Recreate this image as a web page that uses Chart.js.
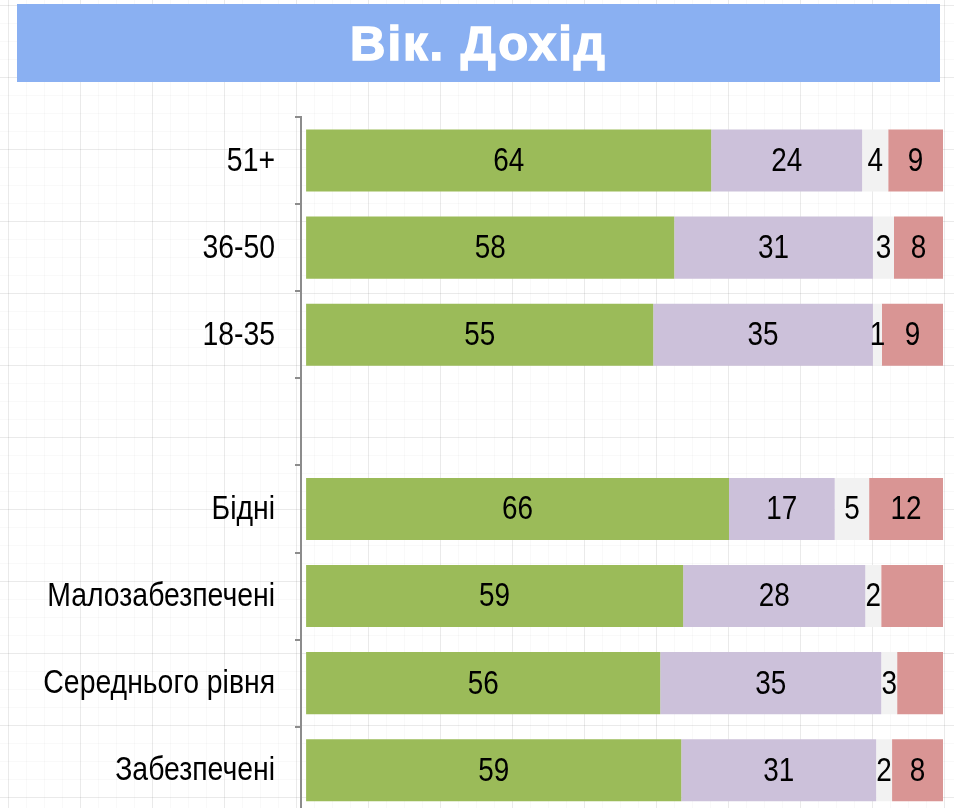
<!DOCTYPE html>
<html>
<head>
<meta charset="utf-8">
<script src="https://cdn.jsdelivr.net/npm/chart.js@4"></script>
<style>
    html, body {
        margin: 0;
        width: 954px;
        height: 808px;
        overflow: hidden;
        background-color: #fff;
        background-image:
            linear-gradient(rgba(0,0,0,0.06) 1px, transparent 1px),
            linear-gradient(90deg, rgba(0,0,0,0.06) 1px, transparent 1px),
            linear-gradient(rgba(0,0,0,0.025) 1px, transparent 1px),
            linear-gradient(90deg, rgba(0,0,0,0.025) 1px, transparent 1px);
        background-size: 72px 72px, 72px 72px, 18px 18px, 18px 18px;
        background-position: 8px 5px;
    }
    #title {
        position: absolute;
        left: 17px;
        top: 4px;
        width: 923px;
        height: 78px;
        background: #8ab0f2;
        color: #fff;
        font: bold 49px "Liberation Sans", Arial, sans-serif;
        letter-spacing: 2px;
        -webkit-text-stroke: 1.5px #fff;
        text-align: center;
        line-height: 78px;
    }
    #chart {
        position: absolute;
        left: 0;
        top: 0;
    }
</style>
</head>
<body>
<div id="title">Вік. Дохід</div>
<canvas id="chart" width="954" height="850"></canvas>
<script>
const categories = ['51+', '36-50', '18-35', '', 'Бідні', 'Малозабезпечені', 'Середнього рівня', 'Забезпечені'];

// segment lengths
const greenValues = [63.6, 57.8, 54.5, null, 66.4, 59.2, 55.6, 58.9];
const lilacValues = [23.7, 31.2, 34.5, null, 16.6, 28.6, 34.7, 30.6];
const greyValues = [4.1, 3.3, 1.4, null, 5.4, 2.5, 2.5, 2.5];
const redValues = [9.0, 7.7, 9.6, null, 11.6, 9.7, 7.2, 8.0];

// printed numbers (null = no label shown)
const greenLabels = [64, 58, 55, null, 66, 59, 56, 59];
const lilacLabels = [24, 31, 35, null, 17, 28, 35, 31];
const greyLabels = [4, 3, 1, null, 5, 2, 3, 2];
const redLabels = [9, 8, 9, null, 12, null, null, 8];

const FONT = '"Liberation Sans", Arial, sans-serif';

// no narrow font installed, so squeeze regular text horizontally
function narrowText(ctx, txt, x, y, size, squeeze) {
    ctx.save();
    ctx.font = `${size}px ${FONT}`;
    ctx.scale(squeeze, 1);
    ctx.fillText(txt, x / squeeze, y);
    ctx.restore();
}

const narrowLabels = {
    id: 'narrowLabels',
    afterDatasetsDraw(chart) {
        const ctx = chart.ctx;
        const area = chart.chartArea;
        ctx.save();
        ctx.fillStyle = '#000';
        ctx.textBaseline = 'middle';

        // category names
        const y = chart.scales.y;
        ctx.textAlign = 'right';
        chart.data.labels.forEach((lab, i) => {
            if (!lab) return;
            narrowText(ctx, lab, 275, y.getPixelForTick(i) + 1, 33, 0.86);
        });

        // numbers inside segments
        ctx.textAlign = 'center';
        chart.data.datasets.forEach((ds, i) => {
            chart.getDatasetMeta(i).data.forEach((el, j) => {
                const txt = ds.labels[j];
                if (txt === null || txt === undefined) return;
                const right = Math.min(el.x, area.right);
                narrowText(ctx, String(txt), (el.base + right) / 2, el.y + 1, 34, 0.82);
            });
        });
        ctx.restore();
    }
};

new Chart(document.getElementById('chart'), {
    type: 'bar',
    data: {
        labels: categories,
        datasets: [
            { data: greenValues, labels: greenLabels, backgroundColor: '#9bbb59' },
            { data: lilacValues, labels: lilacLabels, backgroundColor: '#ccc1da' },
            { data: greyValues, labels: greyLabels, backgroundColor: '#f2f2f2' },
            { data: redValues, labels: redLabels, backgroundColor: '#d99594' }
        ]
    },
    options: {
        indexAxis: 'y',
        responsive: false,
        devicePixelRatio: 1,
        animation: false,
        categoryPercentage: 1,
        barPercentage: 0.713,
        layout: { padding: { top: 117, right: 11, bottom: 17, left: 0 } },
        plugins: {
            legend: { display: false },
            tooltip: { enabled: false }
        },
        scales: {
            x: {
                stacked: true,
                display: false,
                min: -0.8,
                max: 100
            },
            y: {
                stacked: true,
                grid: {
                    drawOnChartArea: false,
                    offset: true,
                    tickLength: 6,
                    color: '#8c8c8c',
                    lineWidth: 2
                },
                border: { color: '#8c8c8c', width: 2 },
                ticks: {
                    padding: 20,
                    color: 'rgba(0,0,0,0)',
                    autoSkip: false,
                    font: { family: FONT, size: 27 }
                },
                afterFit: s => { s.width = 301; }
            }
        }
    },
    plugins: [narrowLabels]
});
</script>
</body>
</html>
